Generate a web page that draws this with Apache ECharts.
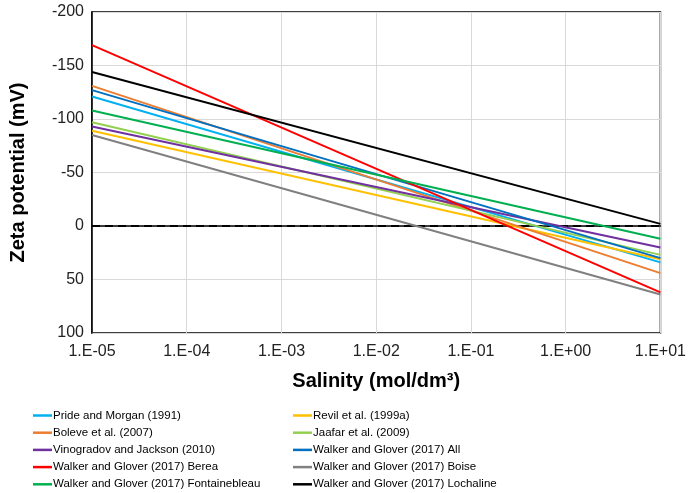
<!DOCTYPE html>
<html><head><meta charset="utf-8">
<script src="https://cdn.jsdelivr.net/npm/echarts@6/dist/echarts.min.js"></script>
<style>html,body{margin:0;padding:0;background:#fff}#c{width:689px;height:493px}</style>
</head><body><div id="c"></div>
<script>
var seriesNames = ['Pride and Morgan (1991)','Revil et al. (1999a)','Boleve et al. (2007)','Jaafar et al. (2009)','Vinogradov and Jackson (2010)','Walker and Glover (2017) All','Walker and Glover (2017) Berea','Walker and Glover (2017) Boise','Walker and Glover (2017) Fontainebleau','Walker and Glover (2017) Lochaline'];
var salinityEnds = [1e-5, 10];
var zetaStart = [-121, -89, -131, -97, -93, -127, -169, -85, -108, -144];
var zetaEnd = [34, 31, 44, 27, 20, 30, 62, 64, 12, -2];
var colors = ['#00B0F0','#FFC000','#ED7D31','#92D050','#7030A0','#0070C0','#FF0000','#808080','#00B050','#000000'];
var yTicks = [-200, 100, 50];

var font = 'Liberation Sans, Arial, sans-serif';
var narrow = 'Liberation Sans Narrow, Arial Narrow, Liberation Sans, Arial, sans-serif';
var series = seriesNames.map(function (n, i) {
  var s = {
    name: n, type: 'line', showSymbol: false, symbol: 'none',
    data: [[salinityEnds[0], zetaStart[i]], [salinityEnds[1], zetaEnd[i]]],
    lineStyle: { color: colors[i], width: 2 }, itemStyle: { color: colors[i] },
    emphasis: { disabled: true }, silent: true, z: 3
  };
  if (i === 0) {
    s.markLine = { symbol: 'none', silent: true, label: { show: false },
      lineStyle: { color: '#000', type: [8, 5], width: 2 }, data: [{ yAxis: 0 }], z: 2 };
  }
  return s;
});
var col1 = [], col2 = [];
seriesNames.forEach(function (n, i) { (i % 2 === 0 ? col1 : col2).push({ name: n, icon: 'rect' }); });
var legendBase = { orient: 'vertical', top: 409, height: 90, padding: 0, itemWidth: 19, itemHeight: 2.5, itemGap: 4.2,
  textStyle: { fontFamily: narrow, fontSize: 11.5, lineHeight: 13, color: '#000', padding: [0, 0, 0, -4] } };
var chart = echarts.init(document.getElementById('c'), null, { renderer: 'canvas' });
chart.setOption({
  animation: false,
  grid: { left: 84, right: 26, top: 12, bottom: 160, show: true, borderColor: '#000', borderWidth: 1.5 },
  legend: [
    Object.assign({ left: 33, data: col1 }, legendBase),
    Object.assign({ left: 293, data: col2 }, legendBase)
  ],
  xAxis: {
    type: 'log', logBase: 10, min: salinityEnds[0], max: salinityEnds[1],
    name: 'Salinity (mol/dm³)', nameLocation: 'middle', nameGap: 38,
    nameTextStyle: { fontFamily: font, fontSize: 20, fontWeight: 'bold', color: '#000' },
    axisLine: { lineStyle: { color: '#000', width: 1.5 } }, axisTick: { show: false },
    axisLabel: { fontFamily: font, fontSize: 16, color: '#222', margin: 11,
      formatter: function (v) { var e = Math.round(Math.log10(v)); var a = Math.abs(e);
        return '1.E' + (e < 0 ? '-' : '+') + (a < 10 ? '0' : '') + a; } },
    splitLine: { show: true, lineStyle: { color: '#d9d9d9', width: 1 } }, minorTick: { show: false }
  },
  yAxis: {
    type: 'value', inverse: true, min: yTicks[0], max: yTicks[1], interval: yTicks[2],
    name: 'Zeta potential (mV)', nameLocation: 'middle', nameGap: 64, nameRotate: 90,
    nameTextStyle: { fontFamily: font, fontSize: 20, fontWeight: 'bold', color: '#000' },
    axisLine: { show: true, lineStyle: { color: '#000', width: 1.5 } }, axisTick: { show: false },
    axisLabel: { fontFamily: font, fontSize: 16, color: '#222', margin: 8 },
    splitLine: { show: true, lineStyle: { color: '#d9d9d9', width: 1 } }
  },
  series: series
});
</script></body></html>
